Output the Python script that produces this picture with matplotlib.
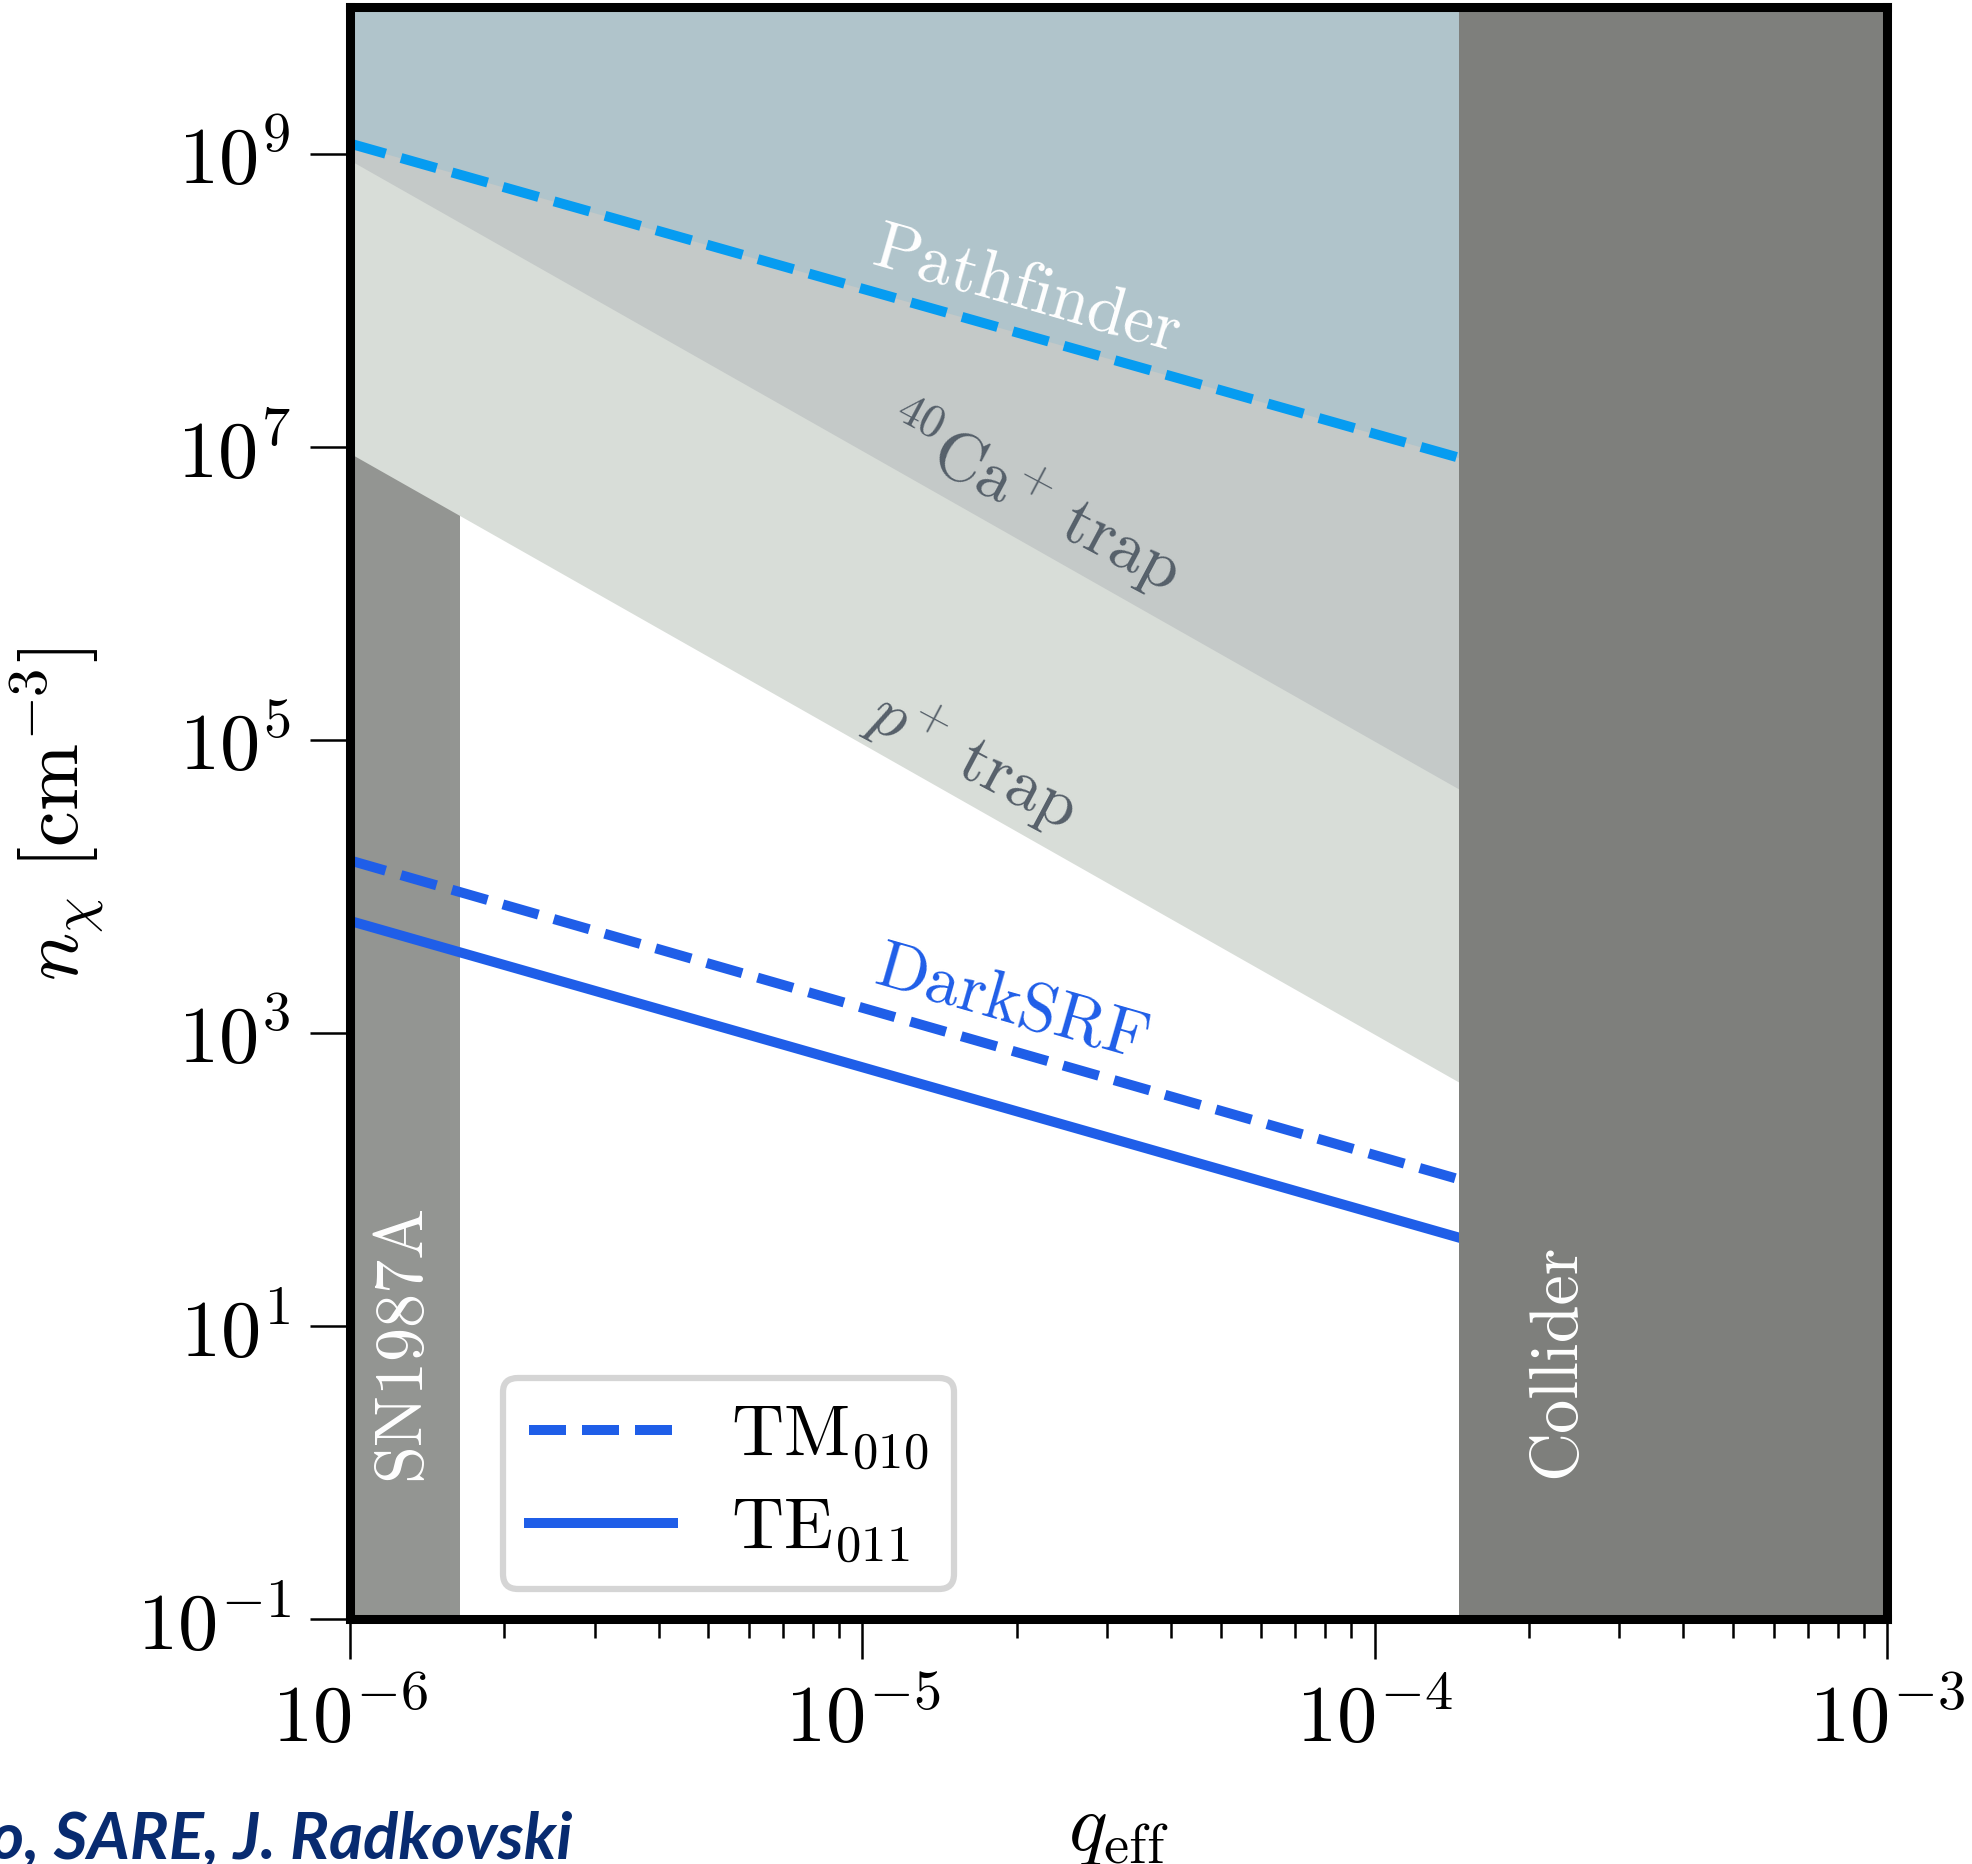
import matplotlib
matplotlib.use("Agg")
import matplotlib.pyplot as plt
from matplotlib.ticker import LogLocator, NullFormatter, NullLocator

plt.rcParams["font.family"] = "serif"
plt.rcParams["font.serif"] = ["cmr10", "DejaVu Serif"]
plt.rcParams["mathtext.fontset"] = "cm"
plt.rcParams["axes.formatter.use_mathtext"] = True

# Coupling range and excluded bands
q_edges = [1e-6, 1.46e-4]
sn1987a_q = [1e-6, 1.64e-6]
collider_q = [1.46e-4, 1e-3]

# Density reach at the two ends of q_edges (power laws in q)
pathfinder_n = [1.17e9, 8.4e6]
ca_trap_n = [9.0e8, 4.6e4]
p_trap_n = [9.0e6, 4.6e2]
tm010_n = [1.5e4, 1.0e2]
te011_n = [5.8e3, 4.0e1]

y_min, y_max = 1e-1, 1e10
y_ticks = [1e-1, 1e1, 1e3, 1e5, 1e7, 1e9]

c_pathfinder_fill = "#b0c4cb"
c_ca = "#c4c9c8"
c_p = "#d8ddd8"
c_sn = "#939592"
c_collider = "#7e7f7c"
c_pathfinder_line = "#069cf1"
c_darksrf = "#1f5ee8"
c_trap_text = "#56606a"

fig = plt.figure(figsize=(19.72, 18.65), dpi=100)
ax = fig.add_axes([0.1775, 0.1314, 0.7795, 0.8643])
ax.set_xscale("log")
ax.set_yscale("log")
ax.set_xlim(1e-6, 1e-3)
ax.set_ylim(y_min, y_max)

# Excluded regions
ax.fill_between(sn1987a_q, [y_min, y_min], [y_max, y_max], color=c_sn, lw=0, zorder=1)
ax.fill_between(q_edges, p_trap_n, [y_max, y_max], color=c_p, lw=0, zorder=2)
ax.fill_between(q_edges, ca_trap_n, [y_max, y_max], color=c_ca, lw=0, zorder=3)
ax.fill_between(q_edges, pathfinder_n, [y_max, y_max], color=c_pathfinder_fill, lw=0, zorder=4)
ax.fill_between(collider_q, [y_min, y_min], [y_max, y_max], color=c_collider, lw=0, zorder=10)

# Projected sensitivities
lw = 7.2
ax.plot(q_edges, pathfinder_n, ls="--", color=c_pathfinder_line, lw=lw, zorder=6)
ax.plot(q_edges, tm010_n, ls="--", color=c_darksrf, lw=lw, zorder=6, label=r"TM$_{010}$")
ax.plot(q_edges, te011_n, ls="-", color=c_darksrf, lw=lw, zorder=6, label=r"TE$_{011}$")

# Region labels
ax.text(2.1e-5, 1.15e8, "Pathfinder", color="white", fontsize=49, rotation=-16,
        ha="center", va="center", zorder=7)
ax.text(2.15e-5, 4.6e6, r"$^{40}\mathrm{Ca}^{+}\ \mathrm{trap}$", color=c_trap_text,
        fontsize=49, rotation=-28, ha="center", va="center", zorder=7)
ax.text(1.64e-5, 7.4e4, r"$p^{+}\ \mathrm{trap}$", color=c_trap_text, fontsize=49,
        rotation=-28, ha="center", va="center", zorder=7)
ax.text(1.96e-5, 1.55e3, "DarkSRF", color=c_darksrf, fontsize=49, rotation=-16,
        ha="center", va="center", zorder=7)
ax.text(1.26e-6, 7.9, "SN1987A", color="white", fontsize=49, rotation=90,
        ha="center", va="center", zorder=7)
ax.text(2.26e-4, 5.9, "Collider", color="white", fontsize=49, rotation=90,
        ha="center", va="center", zorder=11)

# Axes styling
for s in ax.spines.values():
    s.set_linewidth(6.5)
    s.set_zorder(20)
ax.xaxis.set_major_locator(LogLocator(base=10, numticks=10))
ax.xaxis.set_minor_locator(LogLocator(base=10, subs=range(2, 10), numticks=20))
ax.xaxis.set_minor_formatter(NullFormatter())
ax.set_yticks(y_ticks)
ax.yaxis.set_minor_locator(NullLocator())
ax.tick_params(which="major", length=29, width=1.8, labelsize=58, pad=14)
ax.tick_params(which="minor", length=14, width=1.8)
ax.tick_params(axis="x", which="major", pad=16)

ax.set_xlabel(r"$q_{\rm eff}$", fontsize=58, labelpad=28)
ax.set_ylabel(r"$n_\chi\ [\mathrm{cm}^{-3}]$", fontsize=58, labelpad=22)

leg = ax.legend(loc="lower left", bbox_to_anchor=(0.0998, 0.0187), borderaxespad=0,
                fontsize=52, frameon=True, fancybox=True, handlelength=2.0,
                handletextpad=0.8, borderpad=0.35, labelspacing=0.35)
leg.get_frame().set_edgecolor("#d5d5d5")
leg.get_frame().set_linewidth(4.5)
leg.get_frame().set_alpha(1.0)
leg.set_zorder(15)

fig.text(572 / 1972, 1 - 1859 / 1865, "o, SARE, J. Radkovski", fontsize=47,
         family="Lato", weight="bold", style="italic", color="#082b70",
         ha="right", va="baseline")

fig.savefig("out.png", dpi=100)
